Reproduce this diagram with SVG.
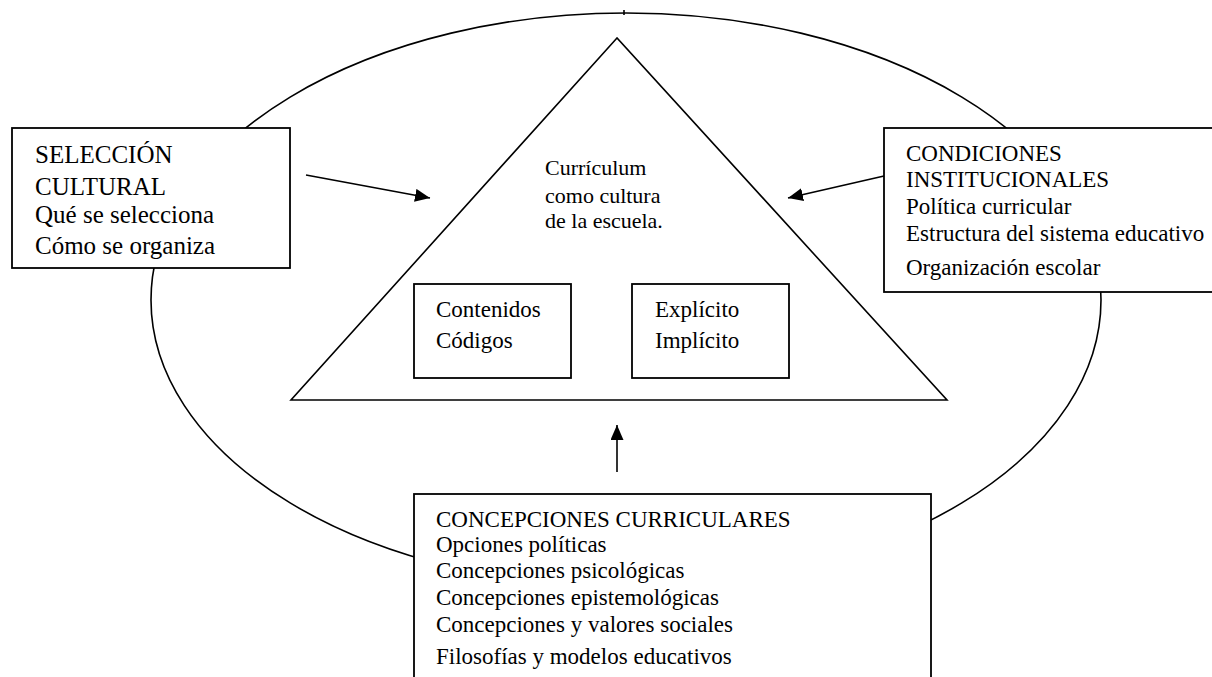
<svg xmlns="http://www.w3.org/2000/svg" width="1212" height="677" viewBox="0 0 1212 677">
<style>
.ln{fill:none;stroke:#000;stroke-width:1.6}
.box{fill:#fff;stroke:#000;stroke-width:1.8}
.t{font-family:"Liberation Serif","Times New Roman",serif;fill:#000}
.f25{font-size:25px}
.f23{font-size:23px}
.f22{font-size:22px}
</style>
<defs>
<marker id="ah" viewBox="0 0 15 13" refX="15" refY="6.5" markerWidth="15" markerHeight="13" markerUnits="userSpaceOnUse" orient="auto">
<path d="M0,0 L15,6.5 L0,13 z" fill="#000"/>
</marker>
</defs>
<rect width="1212" height="677" fill="#fff"/>
<g id="contexto">
<ellipse class="ln" cx="626" cy="300" rx="475" ry="287"/>
<line class="ln" x1="624" y1="10" x2="624" y2="15"/>
</g>
<g id="curriculum">
<polygon class="ln" points="617,38 291,400 947,400"/>
<text class="t f22" x="545" y="175">Currículum</text>
<text class="t f22" x="545" y="203">como cultura</text>
<text class="t f22" x="545" y="228">de la escuela.</text>
</g>
<g id="contenidos">
<rect class="box" x="414" y="284" width="157" height="94"/>
<text class="t f23" x="436" y="317">Contenidos</text>
<text class="t f23" x="436" y="348">Códigos</text>
</g>
<g id="explicito">
<rect class="box" x="632" y="284" width="157" height="94"/>
<text class="t f23" x="655" y="317">Explícito</text>
<text class="t f23" x="655" y="348">Implícito</text>
</g>
<g id="seleccion">
<rect class="box" x="12" y="128" width="278" height="140"/>
<text class="t f25" x="35" y="163">SELECCIÓN</text>
<text class="t f25" x="35" y="195">CULTURAL</text>
<text class="t f25" x="35" y="223">Qué se selecciona</text>
<text class="t f25" x="35" y="254">Cómo se organiza</text>
</g>
<g id="condiciones">
<rect class="box" x="884" y="128" width="340" height="164"/>
<text class="t f23" x="906" y="161">CONDICIONES</text>
<text class="t f23" x="906" y="187">INSTITUCIONALES</text>
<text class="t f23" x="906" y="214">Política curricular</text>
<text class="t f23" x="906" y="241">Estructura del sistema educativo</text>
<text class="t f23" x="906" y="275">Organización escolar</text>
</g>
<g id="concepciones">
<rect class="box" x="414" y="494" width="517" height="190"/>
<text class="t f23" x="436" y="527">CONCEPCIONES CURRICULARES</text>
<text class="t f23" x="436" y="552">Opciones políticas</text>
<text class="t f23" x="436" y="578">Concepciones psicológicas</text>
<text class="t f23" x="436" y="605">Concepciones epistemológicas</text>
<text class="t f23" x="436" y="632">Concepciones y valores sociales</text>
<text class="t f23" x="436" y="664">Filosofías y modelos educativos</text>
</g>
<g id="connectors">
<line class="ln" x1="306" y1="175" x2="430" y2="198" marker-end="url(#ah)"/>
<line class="ln" x1="884" y1="176" x2="788" y2="198" marker-end="url(#ah)"/>
<line class="ln" x1="617" y1="472" x2="617" y2="425" marker-end="url(#ah)"/>
</g>
</svg>
